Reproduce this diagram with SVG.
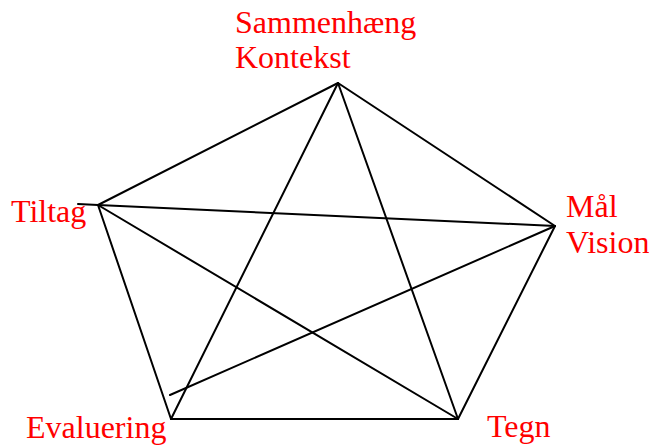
<svg xmlns="http://www.w3.org/2000/svg" width="649" height="446" viewBox="0 0 649 446">
<style>
.lbl{font-family:"Liberation Serif","Times New Roman",serif;font-size:32px;fill:#ff0000}
.ln{stroke:#000;stroke-width:2;fill:none;stroke-linecap:round}
</style>
<rect width="649" height="446" fill="#fff"/>
<g id="connectors" class="ln">
<line x1="338" y1="83" x2="98" y2="205"/>
<line x1="338" y1="83" x2="555" y2="226"/>
<line x1="98" y1="205" x2="171" y2="419"/>
<line x1="555" y1="226" x2="458" y2="419"/>
<line x1="171" y1="419" x2="458" y2="419"/>
<line x1="338" y1="83" x2="171" y2="419"/>
<line x1="338" y1="83" x2="458" y2="419"/>
<line x1="98" y1="205" x2="555" y2="226"/>
<line x1="98" y1="205" x2="458" y2="419"/>
<line x1="555" y1="226" x2="170" y2="395"/>
<line x1="78" y1="204" x2="98" y2="205"/>
</g>
<g id="node-sammenhaeng"><text class="lbl" x="235" y="33">Sammenhæng</text><text class="lbl" x="235" y="68">Kontekst</text></g>
<g id="node-tiltag"><text class="lbl" x="11" y="222">Tiltag</text></g>
<g id="node-maal"><text class="lbl" x="566" y="217">Mål</text><text class="lbl" x="566" y="253">Vision</text></g>
<g id="node-evaluering"><text class="lbl" x="26" y="438">Evaluering</text></g>
<g id="node-tegn"><text class="lbl" x="487" y="437">Tegn</text></g>
</svg>
